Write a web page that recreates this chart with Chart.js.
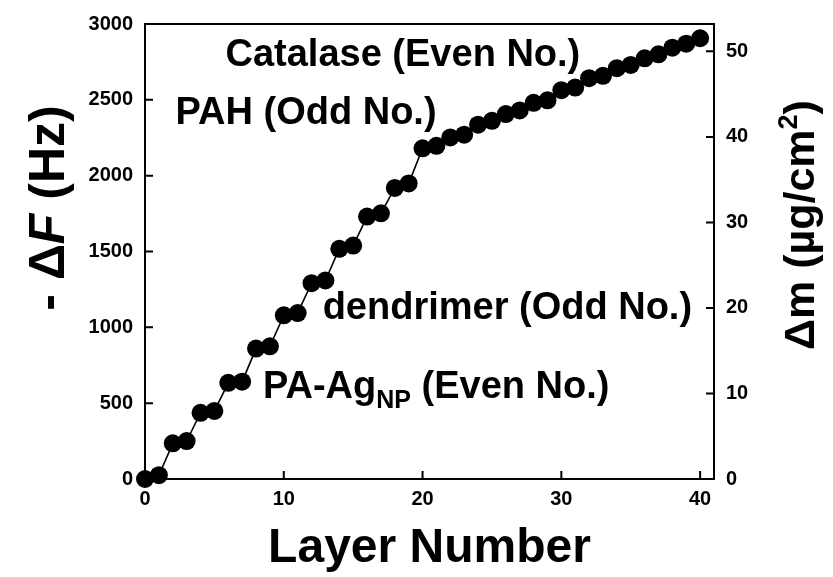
<!DOCTYPE html>
<html>
<head>
<meta charset="utf-8">
<script src="https://cdn.jsdelivr.net/npm/chart.js@4/dist/chart.umd.min.js"></script>
<style>
  html, body { margin: 0; padding: 0; background: #fff; }
  canvas { display: block; }
</style>
</head>
<body>
<canvas id="qcm" width="833" height="577"></canvas>
<script>
// Layer-by-layer QCM frequency shift, with the mass scale on the right
const layers = [0, 1, 2, 3, 4, 5, 6, 7, 8, 9, 10, 11, 12, 13, 14, 15, 16, 17, 18, 19, 20,
  21, 22, 23, 24, 25, 26, 27, 28, 29, 30, 31, 32, 33, 34, 35, 36, 37, 38, 39, 40];
const deltaF = [0, 25, 235, 250, 436, 449, 634, 642, 860, 875, 1079, 1094, 1291, 1309, 1518, 1539,
  1730, 1752, 1919, 1949, 2180, 2197, 2252, 2270, 2336, 2362, 2406, 2430, 2480, 2497,
  2564, 2581, 2643, 2658, 2709, 2730, 2774, 2800, 2844, 2870, 2906];

const xTicks = [0, 10, 20, 30, 40];
const freqTicks = [0, 500, 1000, 1500, 2000, 2500, 3000];
const massTicks = [0, 10, 20, 30, 40, 50];

// Sauerbrey: 3000 Hz on the left axis corresponds to ~53.2 ug/cm2
const FREQ_MAX = 3000;
const MASS_MAX = 53.2;

const FONT = '"Liberation Sans", Arial, sans-serif';

// labels written inside the plot, anchored in data units
const notes = [
  { x: 5.8, y: 2725, runs: [{ t: 'Catalase (Even No.)' }] },
  { x: 2.2, y: 2340, runs: [{ t: 'PAH (Odd No.)' }] },
  { x: 12.8, y: 1053, runs: [{ t: 'dendrimer (Odd No.)' }] },
  { x: 8.5, y: 533, runs: [{ t: 'PA-Ag' }, { t: 'NP', size: 25, dy: 10 }, { t: ' (Even No.)' }] },
];

function drawRuns(ctx, runs, x, y, size, align) {
  const fontOf = r => `${r.italic ? 'italic ' : ''}bold ${r.size || size}px ${FONT}`;
  let total = 0;
  runs.forEach(r => { ctx.font = fontOf(r); total += ctx.measureText(r.t).width; });
  let cx = align === 'center' ? x - total / 2 : x;
  ctx.textAlign = 'left';
  ctx.textBaseline = 'alphabetic';
  runs.forEach(r => {
    ctx.font = fontOf(r);
    ctx.fillText(r.t, cx, y + (r.dy || 0));
    cx += ctx.measureText(r.t).width;
  });
}

const framePlugin = {
  id: 'frame',
  beforeDraw(chart) {
    const ctx = chart.ctx;
    ctx.save();
    ctx.fillStyle = '#fff';
    ctx.fillRect(0, 0, chart.width, chart.height);
    ctx.restore();
  },
  afterDraw(chart) {
    const { ctx, chartArea: a, scales } = chart;
    ctx.save();
    ctx.strokeStyle = '#000';
    ctx.lineWidth = 2;
    ctx.strokeRect(a.left, a.top, a.right - a.left, a.bottom - a.top);

    // inward tick marks
    const len = 8;
    ctx.beginPath();
    scales.x.ticks.forEach(t => {
      const px = scales.x.getPixelForValue(t.value);
      ctx.moveTo(px, a.bottom); ctx.lineTo(px, a.bottom - len);
    });
    scales.y.ticks.forEach(t => {
      const py = scales.y.getPixelForValue(t.value);
      ctx.moveTo(a.left, py); ctx.lineTo(a.left + len, py);
    });
    scales.y2.ticks.forEach(t => {
      const py = scales.y2.getPixelForValue(t.value);
      ctx.moveTo(a.right, py); ctx.lineTo(a.right - len, py);
    });
    ctx.stroke();

    ctx.fillStyle = '#000';

    // notes inside the plot
    notes.forEach(n => {
      drawRuns(ctx, n.runs, scales.x.getPixelForValue(n.x), scales.y.getPixelForValue(n.y), 38, 'left');
    });

    // x title
    drawRuns(ctx, [{ t: 'Layer Number' }], (a.left + a.right) / 2, 562, 48, 'center');

    // left title, rotated
    ctx.save();
    ctx.translate(64, 208);
    ctx.rotate(-Math.PI / 2);
    drawRuns(ctx, [{ t: '- \u0394' }, { t: 'F', italic: true }, { t: ' (Hz)' }], 0, 0, 50, 'center');
    ctx.restore();

    // right title, rotated
    ctx.save();
    ctx.translate(814, 225);
    ctx.rotate(-Math.PI / 2);
    drawRuns(ctx, [{ t: '\u0394m (\u00b5g/cm' }, { t: '2', size: 27, dy: -17 }, { t: ')' }], 0, 0, 43, 'center');
    ctx.restore();

    ctx.restore();
  },
};

const tickFont = { family: FONT, size: 20, weight: 'bold' };
const plainLabel = v => String(v);

function fixedTicks(values) {
  return scale => { scale.ticks = values.map(v => ({ value: v })); };
}

new Chart(document.getElementById('qcm'), {
  type: 'line',
  data: {
    datasets: [{
      data: layers.map((l, i) => ({ x: l, y: deltaF[i] })),
      borderColor: '#000',
      borderWidth: 1.6,
      pointRadius: 9,
      pointBackgroundColor: '#000',
      pointBorderColor: '#000',
      pointBorderWidth: 0,
      pointHoverRadius: 9,
      clip: false,
      yAxisID: 'y',
    }],
  },
  options: {
    responsive: false,
    devicePixelRatio: 1,
    animation: false,
    events: [],
    layout: { padding: { top: 23 } },
    plugins: { legend: { display: false }, tooltip: { enabled: false } },
    scales: {
      x: {
        type: 'linear',
        min: 0,
        max: 41,
        afterBuildTicks: fixedTicks(xTicks),
        afterFit: s => { s.height = 98; },
        grid: { display: false, drawTicks: false },
        border: { display: false },
        ticks: { font: tickFont, color: '#000', padding: 8, maxRotation: 0, callback: plainLabel },
      },
      y: {
        position: 'left',
        min: 0,
        max: FREQ_MAX,
        afterBuildTicks: fixedTicks(freqTicks),
        afterFit: s => { s.width = 145; },
        grid: { display: false, drawTicks: false },
        border: { display: false },
        ticks: { font: tickFont, color: '#000', padding: 12, callback: plainLabel },
      },
      y2: {
        position: 'right',
        min: 0,
        max: MASS_MAX,
        afterBuildTicks: fixedTicks(massTicks),
        afterFit: s => { s.width = 119; },
        grid: { display: false, drawTicks: false },
        border: { display: false },
        ticks: { font: tickFont, color: '#000', padding: 12, callback: plainLabel },
      },
    },
  },
  plugins: [framePlugin],
});
</script>
</body>
</html>
